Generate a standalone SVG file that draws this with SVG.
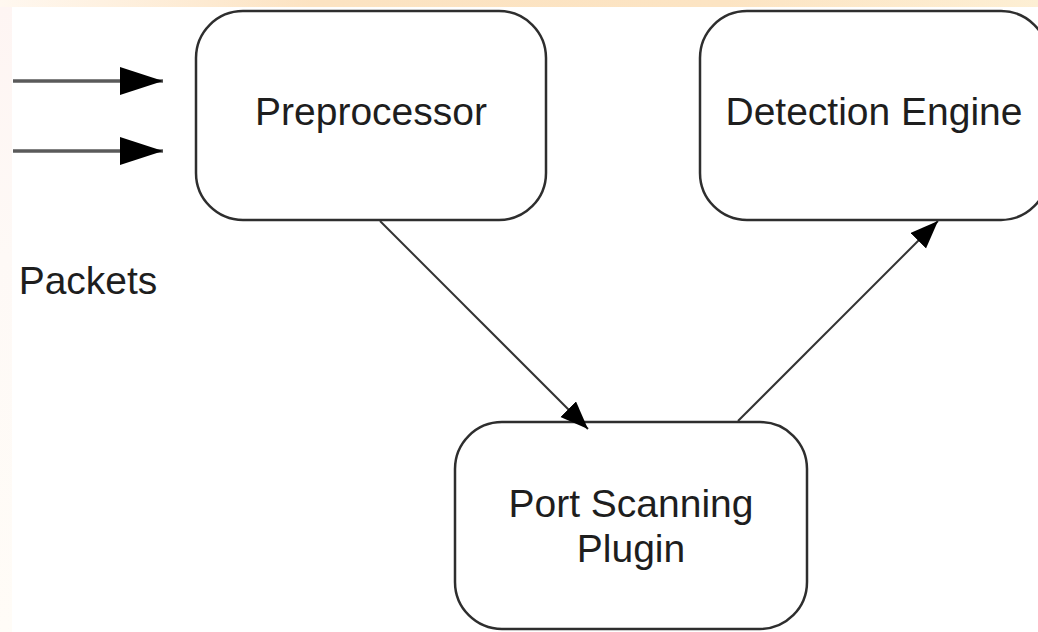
<svg xmlns="http://www.w3.org/2000/svg" width="1038" height="632" viewBox="0 0 1038 632">
  <defs>
    <linearGradient id="topBand" x1="0" y1="0" x2="1" y2="0">
      <stop offset="0" stop-color="#fff8f0"/>
      <stop offset="0.3" stop-color="#fce3c2"/>
      <stop offset="0.7" stop-color="#fce4c3"/>
      <stop offset="1" stop-color="#fdefd4"/>
    </linearGradient>
    <linearGradient id="sideBand" x1="0" y1="0" x2="0" y2="1">
      <stop offset="0" stop-color="#fef5f3"/>
      <stop offset="0.4" stop-color="#fef9f6"/>
      <stop offset="1" stop-color="#fffcf7"/>
    </linearGradient>
    <marker id="bigHead" markerUnits="userSpaceOnUse" markerWidth="44" markerHeight="30" refX="43" refY="14" orient="auto">
      <path d="M0,0 L43,14 L0,28 Z" fill="#000"/>
    </marker>
    <marker id="smallHead" markerUnits="userSpaceOnUse" markerWidth="30" markerHeight="24" refX="28" refY="11" orient="auto">
      <path d="M0,0 L28,11 L0,22 Z" fill="#000"/>
    </marker>
  </defs>
  <style>
    .box { fill: #ffffff; stroke: #2e2e2e; stroke-width: 2.5; }
    .label { font-family: "Liberation Sans", Arial, sans-serif; font-size: 39px; fill: #1e1e1e; text-anchor: middle; }
    .feed { stroke: #5a5a5a; stroke-width: 3.5; fill: none; }
    .flow { stroke: #333; stroke-width: 2; fill: none; }
  </style>

  <!-- page background with tinted margins -->
  <rect x="0" y="0" width="1038" height="632" fill="#ffffff"/>
  <rect x="0" y="7" width="12" height="625" fill="url(#sideBand)"/>
  <rect x="0" y="0" width="1038" height="7" fill="url(#topBand)"/>

  <g id="packets">
    <text class="label" x="88" y="294">Packets</text>
  </g>

  <g id="preprocessor">
    <rect class="box" x="196" y="11" width="350" height="209" rx="47" ry="47"/>
    <text class="label" x="371" y="125">Preprocessor</text>
  </g>

  <g id="detection-engine">
    <rect class="box" x="700" y="11" width="348" height="209" rx="47" ry="47"/>
    <text class="label" x="874" y="125">Detection Engine</text>
  </g>

  <g id="port-scanning-plugin">
    <rect class="box" x="455" y="422" width="352" height="207" rx="47" ry="47"/>
    <text class="label" x="631" y="517">Port Scanning</text>
    <text class="label" x="631" y="562">Plugin</text>
  </g>

  <!-- connectors, drawn last so arrowheads sit over box edges -->
  <g id="connectors">
    <line class="feed" x1="13" y1="81" x2="163" y2="81" marker-end="url(#bigHead)"/>
    <line class="feed" x1="13" y1="151" x2="163" y2="151" marker-end="url(#bigHead)"/>
    <line class="flow" x1="380" y1="221" x2="588" y2="429" marker-end="url(#smallHead)"/>
    <line class="flow" x1="738" y1="421" x2="938" y2="221" marker-end="url(#smallHead)"/>
  </g>
</svg>
